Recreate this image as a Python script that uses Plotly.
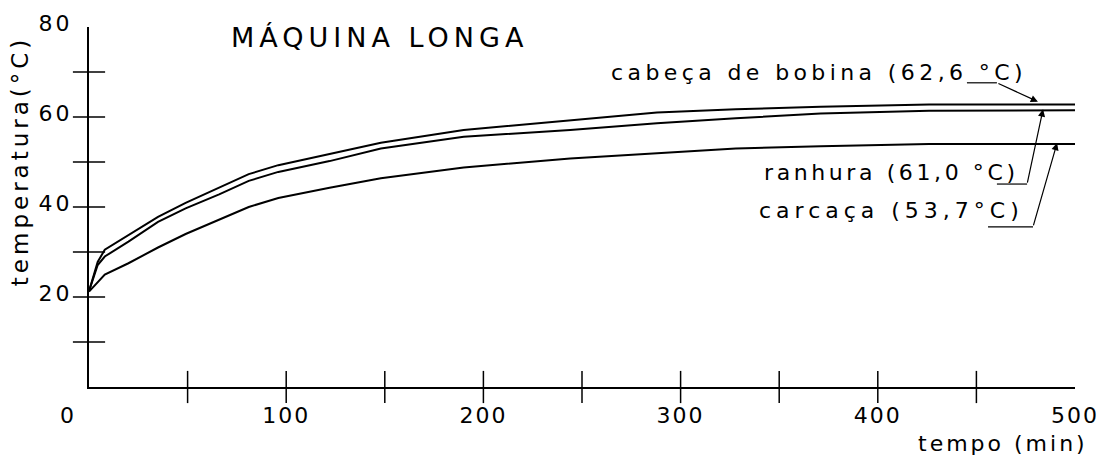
import plotly.graph_objects as go

# ---- data ----
tempo = [0, 4.4, 8, 20, 35, 49, 66, 81, 96, 122, 148, 190, 244, 288, 328, 371, 426, 500]
cabeca = [21.3, 27.8, 30.5, 33.8, 37.8, 40.9, 44.3, 47.3, 49.3, 51.8, 54.3, 57.1, 59.3, 61.0, 61.7, 62.3, 62.8, 62.8]
ranhura = [21.3, 27.1, 29.0, 32.3, 36.7, 39.7, 42.8, 45.8, 47.8, 50.2, 53.0, 55.6, 57.1, 58.6, 59.7, 60.8, 61.4, 61.5]
carcaca = [21.2, 23.2, 25.0, 27.5, 31.0, 34.0, 37.2, 40.0, 42.0, 44.3, 46.4, 48.8, 50.8, 51.9, 53.0, 53.5, 54.0, 54.0]

x_tick_marks = [50, 100, 150, 200, 250, 300, 350, 400, 450]
y_tick_marks = [10, 20, 30, 40, 50, 60, 70]
x_tick_labels = [100, 200, 300, 400, 500]
y_tick_labels = [20, 40, 60, 80]

titulo = "MÁQUINA LONGA"
lbl_cabeca = "cabeça de bobina (62,6 °C)"
lbl_ranhura = "ranhura (61,0 °C)"
lbl_carcaca = "carcaça (53,7°C)"
lbl_x = "tempo (min)"
lbl_y = "temperatura(°C)"

FONT = "DejaVu Sans"


def sp(text, px):
    return f'<span style="letter-spacing:{px}px">{text}</span>'


fig = go.Figure()

for vals in (cabeca, ranhura, carcaca):
    fig.add_trace(go.Scatter(x=tempo, y=vals, mode="lines",
                             line=dict(color="black", width=2),
                             hoverinfo="skip", showlegend=False))

# crossing tick marks
fig.add_trace(go.Scatter(x=[0] * len(y_tick_marks), y=y_tick_marks, mode="markers",
                         marker=dict(symbol="line-ew", size=23,
                                     line=dict(color="black", width=1.5)),
                         cliponaxis=False, hoverinfo="skip", showlegend=False))
fig.add_trace(go.Scatter(x=x_tick_marks, y=[0] * len(x_tick_marks), mode="markers",
                         marker=dict(symbol="line-ns", size=23,
                                     line=dict(color="black", width=1.5)),
                         cliponaxis=False, hoverinfo="skip", showlegend=False))

fig.update_layout(
    width=1104, height=459,
    margin=dict(l=89, r=29, t=27, b=72, autoexpand=False),
    paper_bgcolor="white", plot_bgcolor="white",
    font=dict(family=FONT, color="black", size=22),
    showlegend=False,
    xaxis=dict(range=[0, 500], showline=True, linecolor="black", linewidth=2,
               showgrid=False, zeroline=False, ticks="", automargin=False,
               tickvals=x_tick_labels, ticktext=[sp(str(v), 2) for v in x_tick_labels],
               tickfont=dict(size=22, family=FONT), ticklabelstandoff=8),
    yaxis=dict(range=[0, 80], showline=True, linecolor="black", linewidth=2,
               showgrid=False, zeroline=False, ticks="", automargin=False,
               tickvals=y_tick_labels, ticktext=[sp(str(v), 3) for v in y_tick_labels],
               tickfont=dict(size=22, family=FONT), ticklabelstandoff=10,
               ticklabelshift=-4),
)

ann = []
ann.append(dict(x=0, y=0, xref="x", yref="y", text="0", showarrow=False,
                xshift=-22, yshift=-28, font=dict(size=22)))
ann.append(dict(x=147.3, y=77.7, xref="x", yref="y", text=sp(titulo, 5),
                showarrow=False, font=dict(size=27)))
ann.append(dict(x=370.4, y=70.0, xref="x", yref="y", text=sp(lbl_cabeca, 4.4),
                showarrow=False, font=dict(size=22)))
ann.append(dict(x=406.9, y=47.6, xref="x", yref="y", text=sp(lbl_ranhura, 3.6),
                showarrow=False, font=dict(size=22)))
ann.append(dict(x=406.9, y=39.3, xref="x", yref="y", text=sp(lbl_carcaca, 5),
                showarrow=False, font=dict(size=22)))
ann.append(dict(x=0.9265, y=-0.156, xref="paper", yref="paper", text=sp(lbl_x, 3),
                xanchor="center", yanchor="middle",
                showarrow=False, font=dict(size=22)))
ann.append(dict(x=-0.07, y=0.63, xref="paper", yref="paper", text=sp(lbl_y, 4),
                xanchor="center", yanchor="middle",
                showarrow=False, textangle=-90, font=dict(size=23)))

# leader arrows (head on curve end, tail at bend)
leaders = [
    # (head_x, head_y, bend_x, bend_y, start_x)
    (481.2, 63.4, 460.4, 67.6, 445.2),
    (483.8, 61.7, 475.7, 45.1, 460.4),
    (490.9, 54.2, 478.7, 35.6, 455.9),
]
shapes = []
for hx, hy, bx, by, sx in leaders:
    ann.append(dict(x=hx, y=hy, xref="x", yref="y", ax=bx, ay=by,
                    axref="x", ayref="y", text="", showarrow=True,
                    arrowhead=2, arrowsize=1.2, arrowwidth=1.2, arrowcolor="black",
                    standoff=0, startstandoff=0))
    shapes.append(dict(type="line", xref="x", yref="y", x0=sx, x1=bx, y0=by, y1=by,
                       line=dict(color="black", width=1.2)))

fig.update_layout(annotations=ann, shapes=shapes)

fig.write_html("out.html", config={"displayModeBar": False},
               post_script="document.body.style.margin='0';")
